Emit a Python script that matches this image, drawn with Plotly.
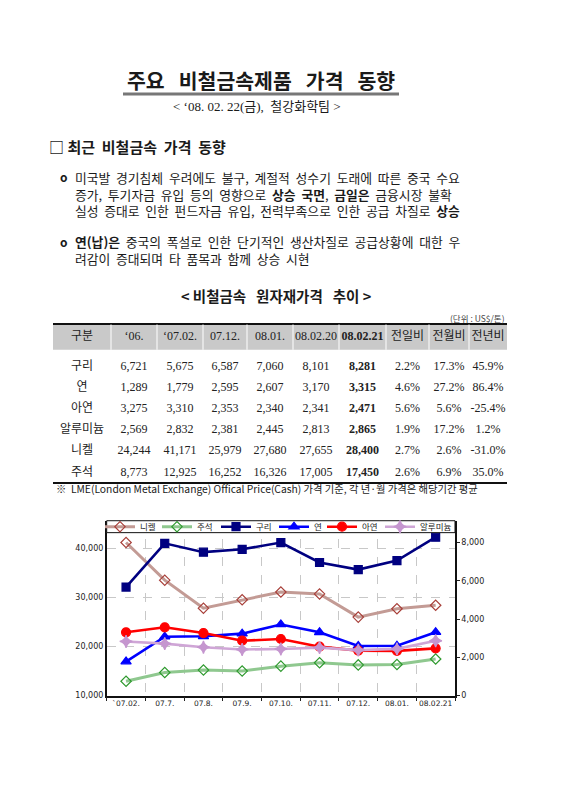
import plotly.graph_objects as go

W, H = 566, 800

# --- table data (US$/ton) ---
metals = ["구리", "연", "아연", "알루미늄", "니켈", "주석"]
header_labels = ["구분", "‘06.", "‘07.02.", "07.12.", "08.01.", "08.02.20", "08.02.21",
                 "전일비", "전월비", "전년비"]
p_2006 = [6721, 1289, 3275, 2569, 24244, 8773]
p_0702 = [5675, 1779, 3310, 2832, 41171, 12925]
p_0712 = [6587, 2595, 2353, 2381, 25979, 16252]
p_0801 = [7060, 2607, 2340, 2445, 27680, 16326]
p_080220 = [8101, 3170, 2341, 2813, 27655, 17005]
p_080221 = [8281, 3315, 2471, 2865, 28400, 17450]
chg_day = [2.2, 4.6, 5.6, 1.9, 2.7, 2.6]
chg_month = [17.3, 27.2, 5.6, 17.2, 2.6, 6.9]
chg_year = [45.9, 86.4, -25.4, 1.2, -31.0, 35.0]

# --- chart data ---
months = ["`07.02.", "07.7.", "07.8.", "07.9.", "07.10.", "07.11.", "07.12.", "08.01.", "08.02.21"]
nickel = [41171, 33500, 27800, 29500, 31100, 30700, 25979, 27680, 28400]
tin = [12925, 14700, 15200, 15000, 16000, 16700, 16252, 16326, 17450]
copper = [5675, 7960, 7500, 7650, 8000, 6960, 6587, 7060, 8281]
lead = [1779, 3080, 3100, 3240, 3720, 3310, 2595, 2607, 3315]
zinc = [3310, 3570, 3270, 2870, 2960, 2560, 2353, 2340, 2471]
aluminum = [2832, 2720, 2530, 2410, 2440, 2510, 2381, 2445, 2865]

SERIF = "Liberation Serif, Noto Sans CJK KR"
SANS = "Noto Sans CJK KR"
NB = "\u00a0"


def px(x):
    return x / W


def py(y):
    return 1 - y / H


def note(x, y, text, size=13, anchor="left", family=SANS, color="#1a1a1a"):
    return dict(x=px(x), y=py(y), xref="paper", yref="paper", text=text, showarrow=False,
                xanchor=anchor, yanchor="middle", align="left",
                font=dict(size=size, family=family, color=color))


fig = go.Figure()

# ---- table, drawn as text on its own hidden axes (x in px from table left, y in page px)
col_w = [58, 46, 46, 44, 46, 46, 47, 43, 40, 38]
edges = [sum(col_w[:i]) for i in range(len(col_w) + 1)]
centers = [(edges[i] + edges[i + 1]) / 2 for i in range(len(col_w))]
head_top, head_bot = 326.5, 352
row_top, row_h = 358.4, 21.3
row_y = [row_top + (i + 0.5) * row_h for i in range(len(metals))]

fmt = lambda vals: [f"{v:,}" for v in vals]
pct = lambda vals: [f"{v:.1f}%" for v in vals]
cols = [metals, fmt(p_2006), fmt(p_0702), fmt(p_0712), fmt(p_0801), fmt(p_080220),
        [f"<b>{v}</b>" for v in fmt(p_080221)], pct(chg_day), pct(chg_month), pct(chg_year)]
heads = [f"<b>{h}</b>" if h == "08.02.21" else h for h in header_labels]
cell_font = dict(size=12, family=SERIF, color="#222")

fig.add_trace(go.Scatter(x=centers, y=[(head_top + head_bot) / 2] * len(heads), text=heads,
                         mode="text", textfont=cell_font, xaxis="x3", yaxis="y3",
                         showlegend=False, hoverinfo="skip"))
for cx, col in zip(centers, cols):
    fig.add_trace(go.Scatter(x=[cx] * len(col), y=row_y, text=col, mode="text",
                             textfont=cell_font, xaxis="x3", yaxis="y3",
                             showlegend=False, hoverinfo="skip"))

# ---- chart lines
left = [("니켈", nickel, "#c39b95", "diamond-open", "#a8403a", 8),
        ("주석", tin, "#8fc88f", "diamond-open", "#2f9a2f", 8)]
right = [("구리", copper, "#000080", "square", "#000080", 8),
         ("연", lead, "#0000ff", "triangle-up", "#0000ff", 9),
         ("아연", zinc, "#ff0000", "circle", "#ff0000", 9),
         ("알루미늄", aluminum, "#cfa6d6", "star-diamond", "#c596cf", 9)]
legend_ids = ["legend", "legend2", "legend3", "legend4", "legend5", "legend6"]
for k, (name, vals, col, sym, mcol, ms) in enumerate(left + right):
    fig.add_trace(go.Scatter(x=months, y=vals, name=name, mode="lines+markers",
                             line=dict(color=col, width=3 if k < 2 else 2.6),
                             marker=dict(symbol=sym, size=ms, color=mcol, line=dict(width=1.2, color=mcol)),
                             xaxis="x", yaxis="y" if k < 2 else "y2", legend=legend_ids[k]))

S2 = " " + NB
bullet1 = "<br>".join([
    S2.join("미국발 경기침체 우려에도 불구, 계절적 성수기 도래에 따른 중국 수요".split(" ")),
    S2.join("증가, 투기자금 유입 등의 영향으로 <b>상승 국면</b>, <b>금일은</b> 금융시장 불확".split(" ")),
    S2.join("실성 증대로 인한 펀드자금 유입, 전력부족으로 인한 공급 차질로 <b>상승</b>".split(" ")),
])
bullet2 = "<br>".join([
    S2.join("<b>연(납)은</b> 중국의 폭설로 인한 단기적인 생산차질로 공급상황에 대한 우".split(" ")),
    S2.join("려감이 증대되며 타 품목과 함께 상승 시현".split(" ")),
])

annotations = [
    note(261, 81, f"<b>주요 {NB}{NB}비철금속제품 {NB}{NB}가격 {NB}{NB}동향</b>", size=20.5, anchor="center"),
    note(257, 107, f"< ‘08. 02. 22(금), {NB}철강화학팀 >", size=13, anchor="center", family=SERIF),
    note(47, 147, f"<b>□ 최근 {NB}비철금속 {NB}가격 {NB}동향</b>", size=15),
    note(58, 178, "<b>o</b>", size=12),
    note(73, 195, bullet1, size=12.8),
    note(58, 243, "<b>o</b>", size=12),
    note(73, 252, bullet2, size=12.8),
    note(276, 297, f"<b>< 비철금속 {NB}{NB}원자재가격 {NB}{NB}추이 ></b>", size=14.5, anchor="center"),
    note(507, 320, "(단위 : US$/톤)", size=8.5, anchor="right", color="#444"),
    note(54, 492, "※  LME(London Metal Exchange) Offical Price(Cash) 가격 기준, 각 년·월 가격은 해당기간 평균",
         size=10.3, family="Liberation Sans Narrow, Noto Sans CJK KR"),
]

shapes = [
    dict(type="line", xref="paper", yref="paper", x0=px(123), x1=px(399), y0=py(94.5), y1=py(94.5),
         line=dict(color="#777", width=3)),
    dict(type="rect", xref="x3", yref="y3", x0=edges[0], x1=edges[-1], y0=head_top, y1=head_bot,
         fillcolor="#c9c9c9", line=dict(width=0), layer="below"),
    dict(type="line", xref="x3", yref="y3", x0=edges[0], x1=edges[-1], y0=head_top - 0.5, y1=head_top - 0.5,
         line=dict(color="#111", width=2)),
    dict(type="line", xref="x3", yref="y3", x0=edges[0], x1=edges[-1], y0=486, y1=486,
         line=dict(color="#111", width=2)),
    # legend frame across the top of the plot area
    dict(type="rect", xref="paper", yref="paper", x0=px(106.7), x1=px(455), y0=py(536), y1=py(524),
         fillcolor="white", line=dict(color="#111", width=1), layer="above"),
]
for e in edges[1:-1]:
    shapes.append(dict(type="line", xref="x3", yref="y3", x0=e, x1=e, y0=head_top, y1=head_bot,
                       line=dict(color="white", width=1)))

tickfont = dict(size=8, family="DejaVu Sans", color="#222")
legend_x = [100, 157, 216, 274, 322, 380]
legends = {}
for lid, lx in zip(legend_ids, legend_x):
    legends[lid] = dict(x=px(lx), y=py(530), xanchor="left", yanchor="middle", orientation="h",
                        bgcolor="rgba(0,0,0,0)", borderwidth=0, itemwidth=30,
                        font=dict(size=8.5, family=SANS, color="#222"))

fig.update_layout(
    width=W, height=H, margin=dict(l=0, r=0, t=0, b=0),
    paper_bgcolor="white", plot_bgcolor="white",
    font=dict(family=SANS, color="#1a1a1a"),
    annotations=annotations, shapes=shapes,
    xaxis=dict(domain=[px(106.7), px(455)], anchor="y", type="category", range=[-0.5, 8.5],
               tickson="boundaries", ticks="outside", ticklen=4, tickcolor="#222", tickangle=0,
               showgrid=True, gridcolor="#c8c8c8", griddash="dash", gridwidth=1,
               showline=True, linecolor="#111", linewidth=1.5,
               tickfont=dict(size=7.5, family="DejaVu Sans", color="#222")),
    yaxis=dict(domain=[py(700), py(524)], range=[10000, 45600], dtick=10000, tickformat=",",
               showgrid=True, gridcolor="#c8c8c8", griddash="dash", gridwidth=1, zeroline=False,
               showline=True, linecolor="#111", linewidth=1.5, tickfont=tickfont, ticks=""),
    yaxis2=dict(overlaying="y", side="right", anchor="x", range=[0, 9143], dtick=2000, tickformat=",",
                showgrid=False, zeroline=False, showline=True, linecolor="#111", linewidth=1.5,
                ticks="outside", ticklen=3, tickcolor="#222", tickfont=tickfont),
    xaxis3=dict(domain=[px(53), px(53 + edges[-1])], range=[0, edges[-1]], visible=False,
                fixedrange=True, anchor="y3"),
    yaxis3=dict(domain=[py(488), py(324)], range=[488, 324], visible=False, fixedrange=True,
                anchor="x3"),
    **legends,
)

# the page's default 8px body margin would push the 566x800 figure off the window
fig.write_html("out.html", config={"displayModeBar": False},
               post_script="document.body.style.margin = '0';")
